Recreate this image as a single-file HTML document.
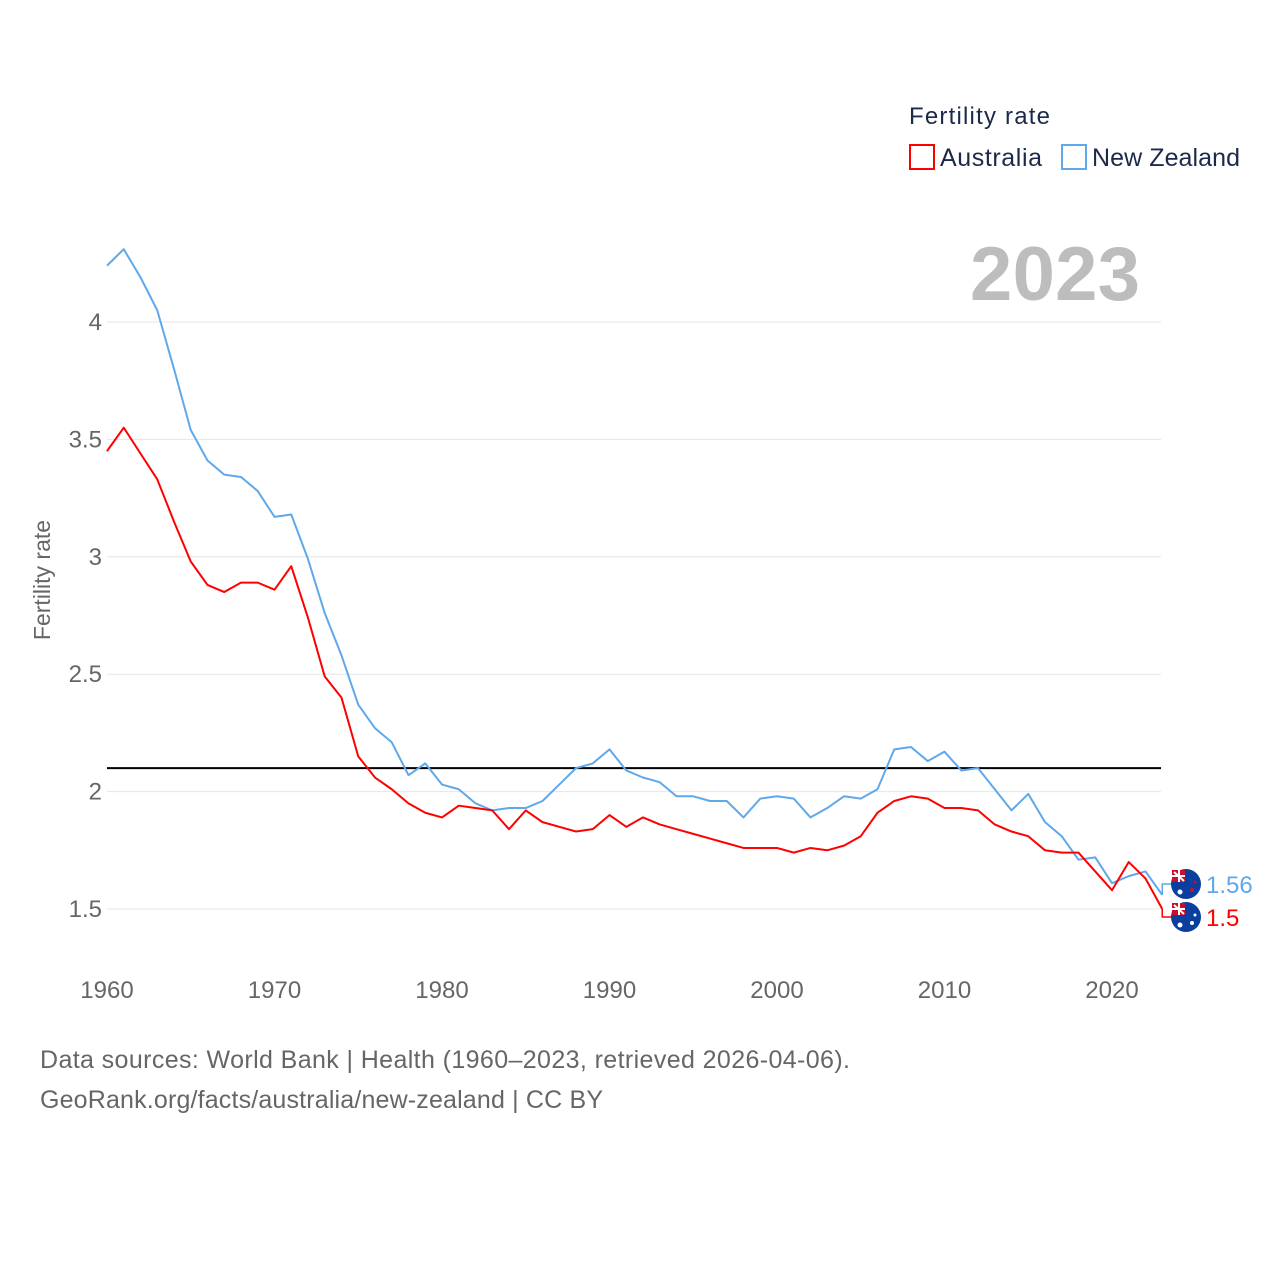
<!DOCTYPE html>
<html><head><meta charset="utf-8">
<style>
body{margin:0;background:#fff;}
svg text{font-family:"Liberation Sans",sans-serif;}
</style></head>
<body>
<svg id="chart" width="1280" height="1280" xmlns="http://www.w3.org/2000/svg">
<text x="909" y="124" font-size="24" fill="#1b2a48" textLength="141">Fertility rate</text>
<g>
<rect x="910" y="145" width="24" height="24" fill="none" stroke="#ff0000" stroke-width="2"/>
<text x="940" y="166" font-size="25" fill="#1b2a48" textLength="102">Australia</text></g>
<g>
<rect x="1062" y="145" width="24" height="24" fill="none" stroke="#5fa8ea" stroke-width="2"/>
<text x="1092" y="166" font-size="25" fill="#1b2a48" textLength="148">New Zealand</text></g>
<text x="1140" y="300" font-size="76" font-weight="bold" fill="#bdbdbd" text-anchor="end" textLength="170">2023</text>
<text transform="translate(50,580) rotate(-90)" font-size="23" fill="#666" text-anchor="middle">Fertility rate</text>
<g id="grid"></g><g id="series"></g>
<text x="40" y="1068" font-size="25" fill="#666" textLength="810">Data sources: World Bank | Health (1960–2023, retrieved 2026-04-06).</text>
<text x="40" y="1108" font-size="25" fill="#666" textLength="563">GeoRank.org/facts/australia/new-zealand | CC BY</text>
</svg>
<script>
const years=[];for(let y=1960;y<=2023;y++)years.push(y);
const australia=[3.45,3.55,3.44,3.33,3.15,2.98,2.88,2.85,2.89,2.89,2.86,2.96,2.74,2.49,2.40,2.15,2.06,2.01,1.95,1.91,1.89,1.94,1.93,1.92,1.84,1.92,1.87,1.85,1.83,1.84,1.90,1.85,1.89,1.86,1.84,1.82,1.80,1.78,1.76,1.76,1.76,1.74,1.76,1.75,1.77,1.81,1.91,1.96,1.98,1.97,1.93,1.93,1.92,1.86,1.83,1.81,1.75,1.74,1.74,1.66,1.58,1.70,1.63,1.50];
const newZealand=[4.24,4.31,4.19,4.05,3.80,3.54,3.41,3.35,3.34,3.28,3.17,3.18,2.99,2.76,2.58,2.37,2.27,2.21,2.07,2.12,2.03,2.01,1.95,1.92,1.93,1.93,1.96,2.03,2.10,2.12,2.18,2.09,2.06,2.04,1.98,1.98,1.96,1.96,1.89,1.97,1.98,1.97,1.89,1.93,1.98,1.97,2.01,2.18,2.19,2.13,2.17,2.09,2.10,2.01,1.92,1.99,1.87,1.81,1.71,1.72,1.61,1.64,1.66,1.56];
const yTicks=[1.5,2,2.5,3,3.5,4];
const xTicks=[1960,1970,1980,1990,2000,2010,2020];
const replacement=2.1;
const NS="http://www.w3.org/2000/svg";
const X=y=>107+(y-1960)*16.75;
const Y=v=>909-(v-1.5)*234.8;
function mk(t,a,p){const e=document.createElementNS(NS,t);for(const k in a)e.setAttribute(k,a[k]);p.appendChild(e);return e;}
const grid=document.getElementById('grid'),ser=document.getElementById('series');
yTicks.forEach(v=>{
 const l=mk('line',{x1:107,x2:1161,y1:Y(v),y2:Y(v),stroke:'#e6e6e6','stroke-width':1},grid);
 
 
 const t=mk('text',{x:102,y:Y(v)+8,'font-size':24,fill:'#666','text-anchor':'end'},grid);t.textContent=v;
 
 
});
xTicks.forEach(v=>{
 const t=mk('text',{x:X(v),y:998,'font-size':24,fill:'#666','text-anchor':'middle'},grid);t.textContent=v;
 
 
});
const rl=mk('line',{x1:107,x2:1161,y1:Y(replacement),y2:Y(replacement),stroke:'#000','stroke-width':2},ser);


function line(vals,col,name){
 const p=mk('polyline',{points:vals.map((v,i)=>X(years[i])+','+Y(v)).join(' '),fill:'none',stroke:col,'stroke-width':2,'stroke-linejoin':'round'},ser);
 
 
}
line(newZealand,'#5fa8ea','new-zealand-line');
line(australia,'#ff0000','australia-line');
function endLabel(v,col,ly,name,nz){
 const lx=X(years[years.length-1]);
 mk('polyline',{points:`${lx},${Y(v)} ${lx},${ly} ${lx+10},${ly}`,fill:'none',stroke:col,'stroke-width':1.5},ser);
 const g=mk('g',{},ser);
 
 
 const cx=1186;
 mk('circle',{cx:cx,cy:ly,r:15,fill:'#0a3fa0'},g);
 mk('rect',{x:cx-14,y:ly-14,width:13,height:12,fill:'#c8102e'},g);
 mk('path',{d:`M${cx-12} ${ly-12}L${cx-2} ${ly-3}M${cx-7} ${ly-14}L${cx-7} ${ly-2}M${cx-14} ${ly-8}L${cx-1} ${ly-8}`,stroke:'#fff','stroke-width':2},g);
 mk('circle',{cx:cx+6,cy:ly+6,r:2,fill:nz?'#c8102e':'#fff'},g);
 mk('circle',{cx:cx+9,cy:ly-2,r:1.5,fill:nz?'#c8102e':'#fff'},g);
 mk('circle',{cx:cx-6,cy:ly+8,r:2.5,fill:'#fff'},g);
 const t=mk('text',{x:1206,y:ly+9,'font-size':24,fill:col},ser);t.textContent=v;
 
 
}
endLabel(newZealand[newZealand.length-1],'#5fa8ea',884,'new-zealand',true);
endLabel(australia[australia.length-1],'#ff0000',917,'australia',false);
</script>
</body></html>
